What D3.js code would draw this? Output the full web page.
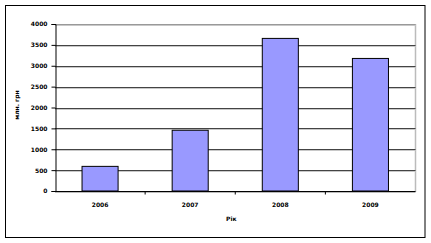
<!DOCTYPE html>
<html>
<head>
<meta charset="utf-8">
<script src="https://cdn.jsdelivr.net/npm/d3@7"></script>
<style>
  html, body { margin: 0; padding: 0; background: #fff; }
  svg text { font-family: "DejaVu Sans", Verdana, sans-serif; font-weight: bold; }
</style>
</head>
<body>
<div id="chart"></div>
<script>
// Річні обсяги, млн. грн
const years = ["2006", "2007", "2008", "2009"];
const values = [590, 1455, 3655, 3175];
const yTicks = [0, 500, 1000, 1500, 2000, 2500, 3000, 3500, 4000];

const width = 431, height = 243;
const margin = { top: 24, right: 15.5, bottom: 52, left: 55 };
const fs = 6;

const svg = d3.select("#chart").append("svg")
  .attr("width", width).attr("height", height);

// outer frame
svg.append("rect")
  .attr("x", 5.5).attr("y", 5.5).attr("width", 419.5).attr("height", 232)
  .attr("fill", "#fff").attr("stroke", "#000").attr("stroke-width", 1);

const x = d3.scaleBand().domain(years)
  .range([margin.left, width - margin.right]).paddingInner(0.6).paddingOuter(0.3);
const y = d3.scaleLinear().domain([0, 4000])
  .range([height - margin.bottom, margin.top]);

// right edge of plot area
svg.append("line")
  .attr("x1", width - margin.right).attr("x2", width - margin.right)
  .attr("y1", y(4000)).attr("y2", y(0) + 1)
  .attr("stroke", "#bbb").attr("stroke-width", 1.5);

// gridlines with light shadow
const grid = svg.append("g");
grid.selectAll("line.sh").data(yTicks.slice(1)).join("line")
  .attr("class", "sh")
  .attr("x1", margin.left).attr("x2", width - margin.right)
  .attr("y1", d => Math.round(y(d)) + 1.5).attr("y2", d => Math.round(y(d)) + 1.5)
  .attr("stroke", "#c8c8c8").attr("stroke-width", 1);
grid.selectAll("line.g").data(yTicks.slice(1)).join("line")
  .attr("class", "g")
  .attr("x1", margin.left).attr("x2", width - margin.right)
  .attr("y1", d => Math.round(y(d)) + 0.5).attr("y2", d => Math.round(y(d)) + 0.5)
  .attr("stroke", d => d === 4000 ? "#999" : "#444").attr("stroke-width", 1);

// bars
svg.selectAll("rect.bar").data(years).join("rect")
  .attr("class", "bar")
  .attr("x", d => x(d))
  .attr("y", (d, i) => y(values[i]))
  .attr("width", x.bandwidth())
  .attr("height", (d, i) => y(0) - y(values[i]))
  .attr("fill", "#9999ff")
  .attr("stroke", "#000").attr("stroke-width", 1);

// y axis
const yAxis = svg.append("g")
  .attr("transform", `translate(${margin.left + 0.5},0)`)
  .call(d3.axisLeft(y).tickValues(yTicks).tickSize(4).tickPadding(4).tickFormat(d3.format("d")));
yAxis.select(".domain").attr("stroke", "#000");
yAxis.selectAll("text").attr("font-size", fs).attr("fill", "#000");

// x axis: ticks between categories
const xa = svg.append("g").attr("transform", `translate(0,${Math.round(y(0)) + 0.5})`);
xa.append("line")
  .attr("x1", margin.left).attr("x2", width - margin.right)
  .attr("stroke", "#000");
xa.append("line")
  .attr("x1", margin.left).attr("x2", width - margin.right)
  .attr("y1", 1).attr("y2", 1)
  .attr("stroke", "#bbb");
const step = x.step();
xa.selectAll("line.tk").data(years.slice(1)).join("line")
  .attr("class", "tk")
  .attr("x1", d => x(d) - step * x.paddingInner() / 2)
  .attr("x2", d => x(d) - step * x.paddingInner() / 2)
  .attr("y1", 0).attr("y2", 3)
  .attr("stroke", "#000");
xa.selectAll("text").data(years).join("text")
  .attr("x", d => x(d) + x.bandwidth() / 2)
  .attr("y", 15)
  .attr("text-anchor", "middle")
  .attr("font-size", fs)
  .text(d => d);

// axis titles
svg.append("text")
  .attr("x", (margin.left + width - margin.right) / 2 - 4)
  .attr("y", 221)
  .attr("text-anchor", "middle")
  .attr("font-size", fs)
  .text("Рік");
svg.append("text")
  .attr("transform", "translate(19,105) rotate(-90)")
  .attr("text-anchor", "middle")
  .attr("font-size", fs)
  .text("млн. грн");
</script>
</body>
</html>
